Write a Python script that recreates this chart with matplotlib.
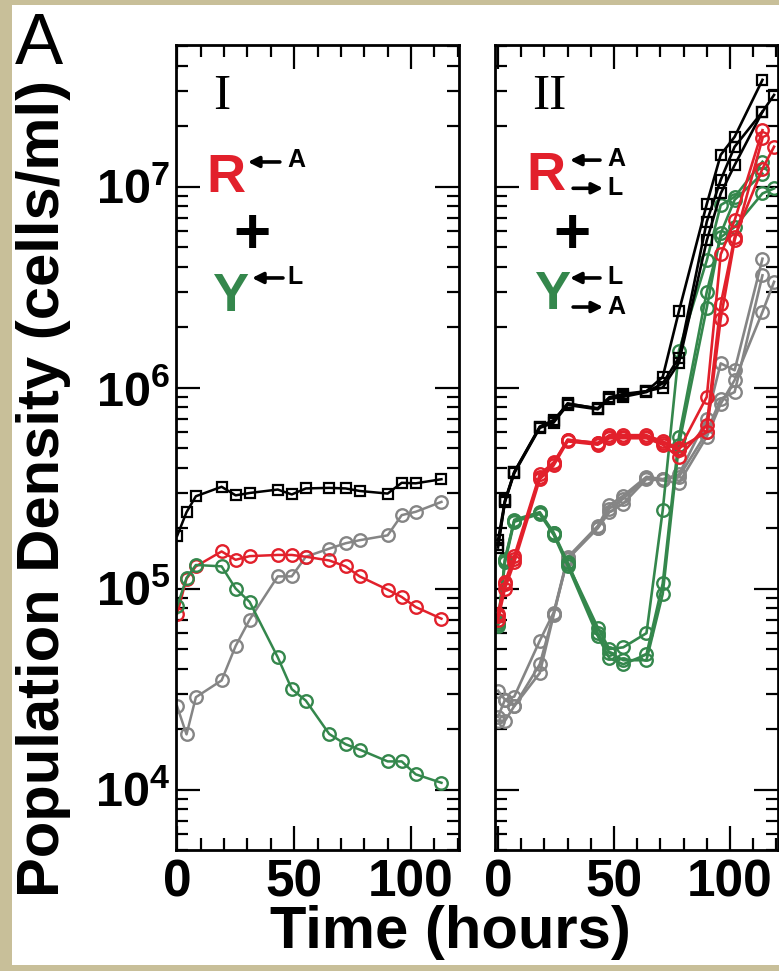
import numpy as np
import matplotlib
matplotlib.use("Agg")
import matplotlib.pyplot as plt
from matplotlib.ticker import FixedLocator, MultipleLocator, LogLocator, NullFormatter, FuncFormatter
from matplotlib.patches import Rectangle

# ---------------- data ----------------
t_I = [0, 4, 8, 19, 25, 31, 43, 49, 55, 65, 72, 78, 90, 96, 102, 113]
total_I = [1.83e5, 2.40e5, 2.88e5, 3.21e5, 2.91e5, 2.99e5, 3.11e5, 2.94e5, 3.15e5,
           3.17e5, 3.15e5, 3.06e5, 2.97e5, 3.36e5, 3.34e5, 3.50e5]
red_I = [7.5e4, 1.12e5, 1.29e5, 1.53e5, 1.39e5, 1.45e5, 1.47e5, 1.47e5, 1.44e5,
         1.38e5, 1.29e5, 1.15e5, 9.87e4, 9.08e4, 8.09e4, 7.08e4]
green_I = [8.15e4, 1.13e5, 1.31e5, 1.29e5, 1.00e5, 8.58e4, 4.55e4, 3.16e4, 2.77e4,
           1.89e4, 1.68e4, 1.58e4, 1.38e4, 1.38e4, 1.19e4, 1.08e4]
gray_I = [2.59e4, 1.88e4, 2.88e4, 3.49e4, 5.18e4, 7.01e4, 1.15e5, 1.15e5, 1.44e5,
          1.58e5, 1.68e5, 1.74e5, 1.84e5, 2.32e5, 2.41e5, 2.70e5]

nan = np.nan
t_II = [0, 3, 7, 18, 24, 30, 43, 48, 54, 64, 71, 78, 90, 96, 102, 114, 119]
total_II = [
    [1.74e5, 2.75e5, 3.80e5, 6.40e5, 6.90e5, 8.30e5, 7.90e5, 8.90e5, 9.10e5, 9.60e5, 1.13e6, 2.40e6, 8.20e6, 1.44e7, 1.77e7, 3.40e7, nan],
    [1.65e5, 2.70e5, 3.75e5, 6.30e5, 6.70e5, 8.20e5, 7.80e5, 8.80e5, 9.00e5, 9.50e5, 1.05e6, 1.41e6, 6.70e6, 1.08e7, 1.58e7, 2.36e7, 2.86e7],
    [1.60e5, 2.72e5, 3.80e5, 6.35e5, 6.80e5, 8.35e5, 7.85e5, 8.95e5, 9.30e5, 9.60e5, 1.00e6, 1.33e6, 5.40e6, 9.25e6, 1.28e7, 2.36e7, nan],
]
red_II = [
    [7.3e4, 1.05e5, 1.41e5, 3.60e5, 4.20e5, 5.50e5, 5.30e5, 5.70e5, 5.70e5, 5.70e5, 5.30e5, 4.90e5, 9.00e5, 4.60e6, 6.80e6, 1.91e7, nan],
    [7.0e4, 1.00e5, 1.35e5, 3.50e5, 4.10e5, 5.40e5, 5.20e5, 5.60e5, 5.60e5, 5.60e5, 5.20e5, 4.50e5, 6.50e5, 2.60e6, 5.60e6, 1.23e7, 1.58e7],
    [7.5e4, 1.08e5, 1.45e5, 3.70e5, 4.25e5, 5.50e5, 5.30e5, 5.80e5, 5.80e5, 5.80e5, 5.40e5, 5.00e5, 6.00e5, 2.20e6, 5.40e6, 1.74e7, nan],
]
green_II = [
    [6.7e4, 1.41e5, 2.18e5, 2.38e5, 1.88e5, 1.33e5, 6.4e4, 5.0e4, 5.1e4, 6.0e4, 2.45e5, 1.53e6, 4.30e6, 8.10e6, 8.90e6, 1.33e7, nan],
    [6.5e4, 1.35e5, 2.15e5, 2.35e5, 1.85e5, 1.30e5, 5.8e4, 4.5e4, 4.2e4, 4.7e4, 1.06e5, 5.70e5, 3.00e6, 5.60e6, 6.30e6, 9.25e6, 9.80e6],
    [6.8e4, 1.38e5, 2.20e5, 2.40e5, 1.90e5, 1.35e5, 6.0e4, 4.8e4, 4.4e4, 4.4e4, 9.4e4, 5.20e5, 2.50e6, 5.85e6, 8.60e6, 1.16e7, nan],
]
gray_II = [
    [3.1e4, 2.8e4, 2.9e4, 5.5e4, 7.6e4, 1.43e5, 2.05e5, 2.60e5, 2.90e5, 3.60e5, 3.50e5, 3.70e5, 7.00e5, 1.32e6, 1.22e6, 4.38e6, nan],
    [2.2e4, 2.2e4, 2.6e4, 4.2e4, 7.5e4, 1.40e5, 2.00e5, 2.40e5, 2.65e5, 3.50e5, 3.45e5, 3.35e5, 5.70e5, 8.30e5, 1.09e6, 2.38e6, 3.36e6],
    [2.3e4, 2.8e4, 2.6e4, 3.8e4, 7.4e4, 1.42e5, 2.00e5, 2.50e5, 2.80e5, 3.55e5, 3.50e5, 3.60e5, 6.00e5, 8.80e5, 9.50e5, 3.62e6, nan],
]

x_ticks = [0, 50, 100]
y_decades = [1e4, 1e5, 1e6, 1e7]
panel_names = ["I", "II"]

# ---------------- style ----------------
RED = "#E2202B"
GREEN = "#34874C"
GRAY = "#858585"
BLACK = "#000000"
TAN = "#C8BF99"

plt.rcParams["mathtext.fontset"] = "custom"
plt.rcParams["mathtext.rm"] = "Liberation Sans:bold"
tick_font = ["Liberation Sans Narrow", "Liberation Sans"]

W, H = 779, 971
fig = plt.figure(figsize=(W / 100, H / 100), dpi=100, facecolor=TAN)
fig.patches.append(Rectangle((12 / W, 6 / H), 1, 1 - 11 / H, transform=fig.transFigure,
                             facecolor="white", edgecolor="none", zorder=-10))

ax_bottom = 1 - 850 / H
ax_h = 805 / H
axI = fig.add_axes([176 / W, ax_bottom, 283 / W, ax_h])
axII = fig.add_axes([495 / W, ax_bottom, 283 / W, ax_h])
for ax in (axI, axII):
    ax.set_zorder(1)
    ax.patch.set_facecolor("white")


def style_axis(ax, xlim, show_ylabels):
    ax.set_yscale("log")
    ax.set_ylim(5.0e3, 5.07e7)
    ax.set_xlim(*xlim)
    ax.xaxis.set_major_locator(FixedLocator(x_ticks))
    ax.xaxis.set_minor_locator(MultipleLocator(10))
    ax.yaxis.set_major_locator(FixedLocator(y_decades))
    ax.yaxis.set_minor_locator(LogLocator(base=10, subs=np.arange(2, 10)))
    ax.yaxis.set_minor_formatter(NullFormatter())
    if show_ylabels:
        ax.yaxis.set_major_formatter(FuncFormatter(
            lambda v, p: r"$\mathregular{10^{%d}}$" % int(round(np.log10(v)))))
    else:
        ax.yaxis.set_major_formatter(NullFormatter())
    ax.xaxis.set_major_formatter(FuncFormatter(lambda v, p: "%d" % v))
    ax.tick_params(which="both", direction="in", top=True, right=True, width=1.6, colors="black")
    ax.tick_params(which="major", length=17)
    ax.tick_params(which="minor", length=8.5)
    ax.tick_params(axis="x", which="major", pad=6)
    ax.tick_params(axis="y", which="major", pad=4)
    for lab in ax.get_xticklabels():
        lab.set_fontfamily(tick_font)
        lab.set_fontweight("bold")
        lab.set_fontsize(37)
    for lab in ax.get_yticklabels():
        lab.set_fontfamily(tick_font)
        lab.set_fontweight("bold")
        lab.set_fontsize(35)
    for s in ax.spines.values():
        s.set_linewidth(2.0)


style_axis(axI, (-0.5, 120.5), True)
style_axis(axII, (-1.3, 120.7), False)

circ = dict(marker="o", mfc="none", ms=9, mew=1.7)
sq = dict(marker="s", mfc="none", ms=7.5, mew=1.6)

# Panel I
axI.plot(t_I, gray_I, color=GRAY, lw=1.8, mec=GRAY, **circ)
axI.plot(t_I, red_I, color=RED, lw=1.8, mec=RED, **circ)
axI.plot(t_I, green_I, color=GREEN, lw=1.8, mec=GREEN, **circ)
axI.plot(t_I, total_I, color=BLACK, lw=1.8, mec=BLACK, **sq)

# Panel II
for rep in gray_II:
    axII.plot(t_II, rep, color=GRAY, lw=1.9, mec=GRAY, **circ)
for rep in green_II:
    axII.plot(t_II, rep, color=GREEN, lw=1.9, mec=GREEN, **circ)
for rep in red_II:
    axII.plot(t_II, rep, color=RED, lw=1.9, mec=RED, **circ)
for rep in total_II:
    axII.plot(t_II, rep, color=BLACK, lw=1.9, mec=BLACK, **sq)

# panel labels
for ax, name in zip([axI, axII], panel_names):
    ax.text(0.13, 0.9205, name, transform=ax.transAxes, family="Liberation Serif",
            fontsize=37, ha="left", va="baseline")


def arrow(ax, x0, x1, y):
    ax.annotate("", xy=(x1, y), xytext=(x0, y), xycoords="axes fraction",
                textcoords="axes fraction",
                arrowprops=dict(arrowstyle="-|>", lw=2.6, color="black",
                                mutation_scale=16, shrinkA=0, shrinkB=0))


def small(ax, x, y, s):
    ax.text(x, y, s, transform=ax.transAxes, fontsize=18, fontweight="bold",
            family="Liberation Sans", ha="left", va="center")


big = dict(fontsize=39, fontweight="bold", family="Liberation Sans", ha="left", va="baseline")

# Panel I annotation
axI.text(0.108, 0.8174, "R", color=RED, transform=axI.transAxes, **big)
arrow(axI, 0.367, 0.254, 0.8547)
small(axI, 0.392, 0.857, "A")
axI.text(0.2686, 0.741, "+", color="black", transform=axI.transAxes, fontsize=46,
         fontweight="bold", family="Liberation Sans", ha="center", va="baseline")
axI.text(0.128, 0.6696, "Y", color=GREEN, transform=axI.transAxes, **big)
arrow(axI, 0.378, 0.2686, 0.7106)
small(axI, 0.392, 0.712, "L")

# Panel II annotation
axII.text(0.112, 0.820, "R", color=RED, transform=axII.transAxes, **big)
arrow(axII, 0.371, 0.265, 0.857)
small(axII, 0.396, 0.859, "A")
arrow(axII, 0.276, 0.382, 0.822)
small(axII, 0.396, 0.822, "L")
axII.text(0.272, 0.741, "+", color="black", transform=axII.transAxes, fontsize=46,
          fontweight="bold", family="Liberation Sans", ha="center", va="baseline")
axII.text(0.139, 0.672, "Y", color=GREEN, transform=axII.transAxes, **big)
arrow(axII, 0.371, 0.265, 0.7106)
small(axII, 0.396, 0.712, "L")
arrow(axII, 0.276, 0.382, 0.6745)
small(axII, 0.396, 0.6745, "A")

# figure texts
fig.text(15 / W, 1 - 64 / H, "A", family="Liberation Sans", fontsize=52,
         ha="left", va="baseline")
fig.text(44 / W, 1 - 488 / H, "Population Density (cells/ml)", rotation=90,
         family="Liberation Sans", fontweight="bold", fontsize=43, ha="center", va="center")
fig.text(450 / W, 1 - 932 / H, "Time (hours)", family="Liberation Sans",
         fontweight="bold", fontsize=43, ha="center", va="center")

fig.savefig("out.png", dpi=100, facecolor=TAN)
